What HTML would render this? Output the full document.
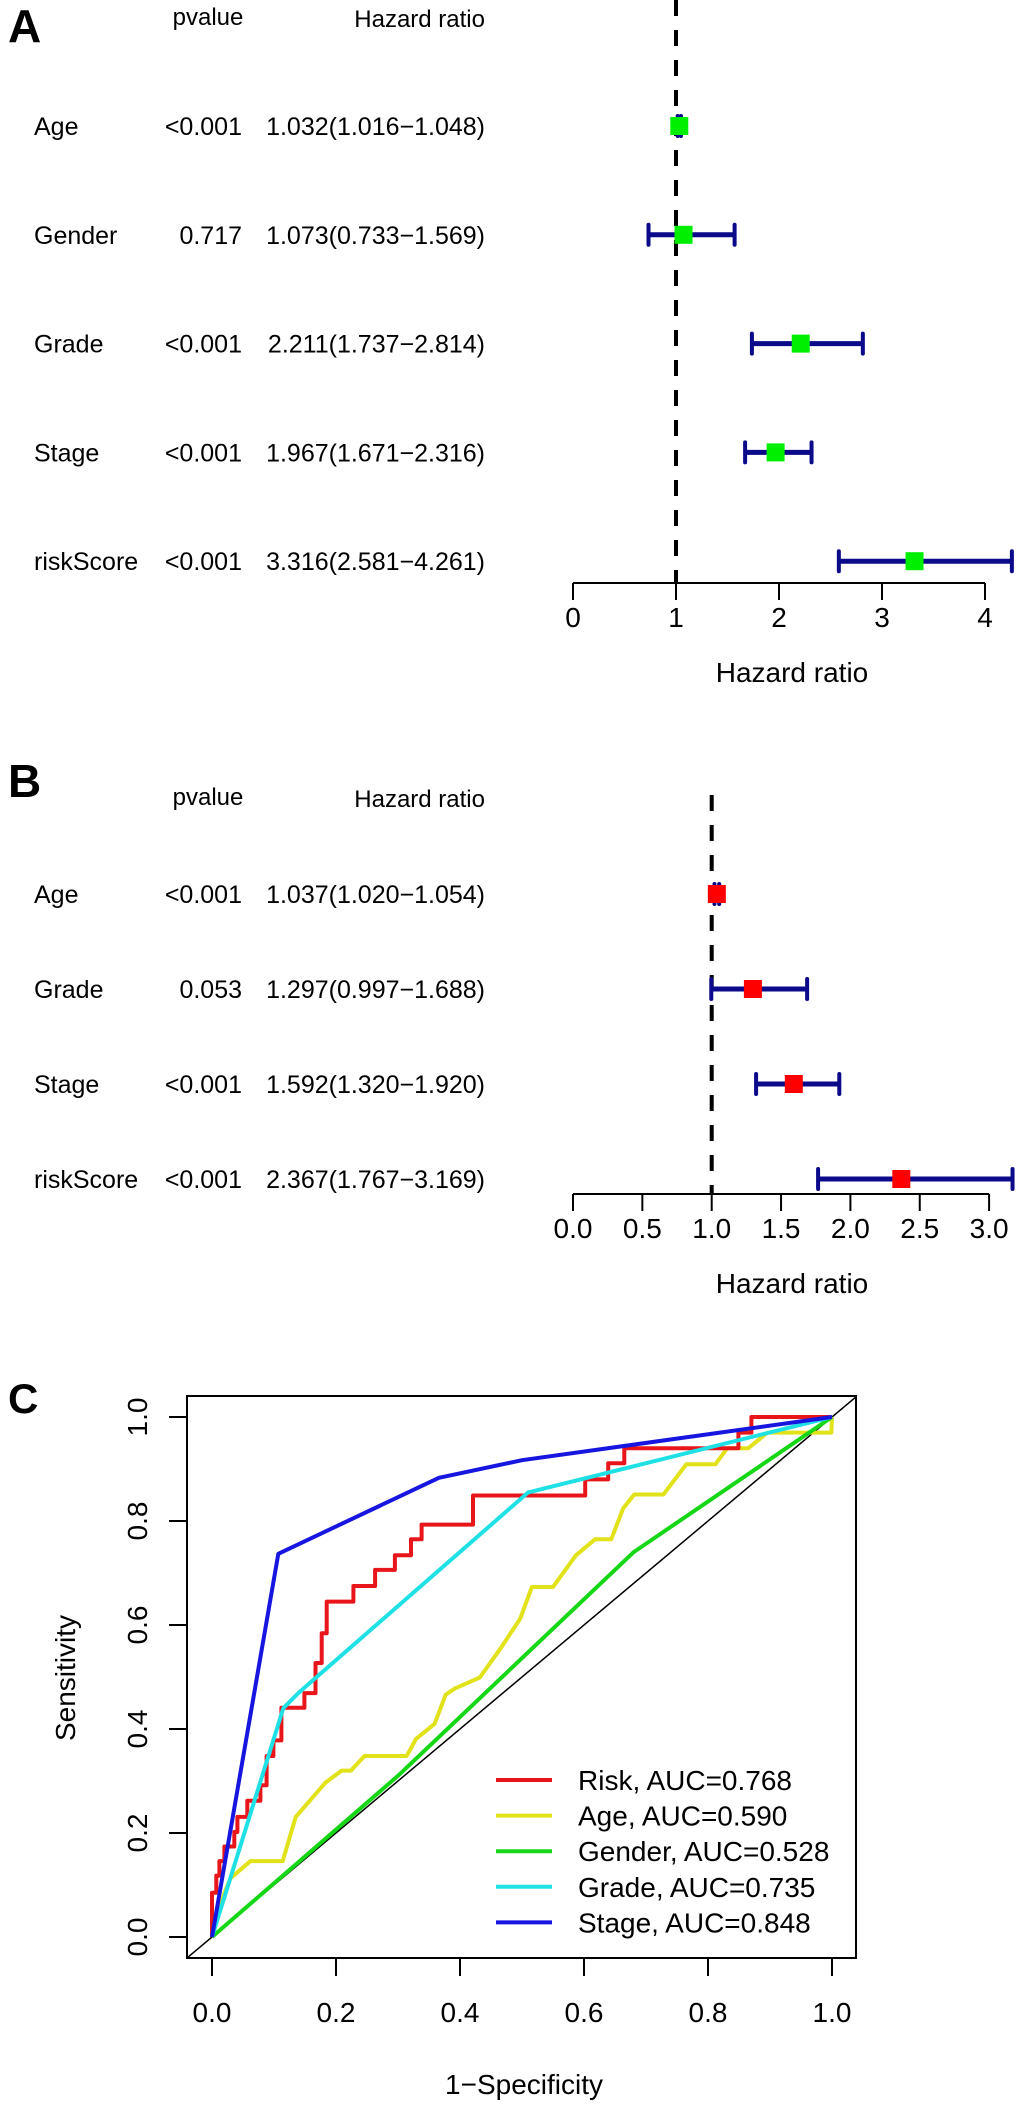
<!DOCTYPE html>
<html><head><meta charset="utf-8"><style>
html,body{margin:0;padding:0;background:#fff;}
svg{display:block;font-family:"Liberation Sans",Arial,sans-serif;}
</style></head><body>
<svg id="fig" width="1020" height="2107" viewBox="0 0 1020 2107">
<g id="pA"></g>
<g id="pB"></g>
<g id="pC"></g>
</svg>
<script>
// ---- Panel A data ----
const aVars = ["Age","Gender","Grade","Stage","riskScore"];
const aP = ["<0.001","0.717","<0.001","<0.001","<0.001"];
const aHR = [1.032,1.073,2.211,1.967,3.316];
const aLo = [1.016,0.733,1.737,1.671,2.581];
const aHi = [1.048,1.569,2.814,2.316,4.261];
const aTicks = [0,1,2,3,4];
const aTickLabels = ["0","1","2","3","4"];
// ---- Panel B data ----
const bVars = ["Age","Grade","Stage","riskScore"];
const bP = ["<0.001","0.053","<0.001","<0.001"];
const bHR = [1.037,1.297,1.592,2.367];
const bLo = [1.020,0.997,1.320,1.767];
const bHi = [1.054,1.688,1.920,3.169];
const bTicks = [0,0.5,1,1.5,2,2.5,3];
const bTickLabels = ["0.0","0.5","1.0","1.5","2.0","2.5","3.0"];
// ---- Panel C data ----
const rocTicks = [0,0.2,0.4,0.6,0.8,1.0];
const rocTickLabels = ["0.0","0.2","0.4","0.6","0.8","1.0"];
const riskFpr = [0,.007,.012,.02,.036,.041,.057,.078,.088,.099,.112,.149,.167,.177,.185,.228,.263,.295,.321,.338,.421,.602,.639,.665,.849,.87,1];
const riskTpr = [.085,.118,.146,.174,.202,.231,.262,.292,.348,.378,.441,.469,.527,.584,.645,.675,.706,.734,.765,.793,.849,.88,.911,.94,.97,1.0,1.0];
const ageFpr = [0,.02,.03,.062,.114,.135,.183,.209,.224,.246,.314,.329,.359,.377,.392,.432,.466,.497,.516,.55,.587,.618,.644,.663,.681,.728,.765,.812,.831,.865,.896,.999,1];
const ageTpr = [0,.085,.113,.146,.146,.231,.297,.32,.32,.348,.348,.381,.41,.466,.478,.499,.556,.612,.673,.673,.734,.765,.765,.824,.851,.851,.909,.909,.94,.94,.97,.97,1];
const genderFpr = [0,.3,.68,1];
const genderTpr = [0,.31,.74,1];
const gradeFpr = [0,.115,.14,.51,1];
const gradeTpr = [0,.44,.47,.855,1];
const stageFpr = [0,.107,.366,.5,1];
const stageTpr = [0,.737,.883,.917,1];
const legendLabels = ["Risk, AUC=0.768","Age, AUC=0.590","Gender, AUC=0.528","Grade, AUC=0.735","Stage, AUC=0.848"];
const legendColors = ["#e8161b","#e2e21a","#16d716","#1ee0e5","#1616e0"];

const NS="http://www.w3.org/2000/svg";
function mk(parent,tag,attrs,text){const e=document.createElementNS(NS,tag);for(const k in attrs)e.setAttribute(k,attrs[k]);if(text!==undefined)e.textContent=text;parent.appendChild(e);return e;}

function forest(g,cfg){
  const sx=v=>cfg.x0+v*cfg.unit;
  const rowY=i=>cfg.row0+i*cfg.rowStep;
  let t=mk(g,'text',{x:8,y:cfg.letterY,'font-size':46,'font-weight':'bold'},cfg.letter);
  
  
  t=mk(g,'text',{x:208,y:cfg.headY-2,'font-size':24,'text-anchor':'middle'},'pvalue');
  
  
  t=mk(g,'text',{x:485,y:cfg.headY,'font-size':24,'text-anchor':'end'},'Hazard ratio');
  
  
  // reference line
  let l=mk(g,'line',{x1:sx(1),x2:sx(1),y1:cfg.dashTop,y2:cfg.axisY,stroke:'#000','stroke-width':4,'stroke-dasharray':'16 14'});
  
  
  cfg.vars.forEach((v,i)=>{
    const y=rowY(i);
    let e=mk(g,'text',{x:34,y:y+9,'font-size':25},v);
    
    
    e=mk(g,'text',{x:242,y:y+9,'font-size':25,'text-anchor':'end'},cfg.p[i]);
    
    
    e=mk(g,'text',{x:485,y:y+9,'font-size':25,'text-anchor':'end'},cfg.hr[i].toFixed(3)+'('+cfg.lo[i].toFixed(3)+'\u2212'+cfg.hi[i].toFixed(3)+')');
    
    
    const gb=mk(g,'g',{});
    
    
    mk(gb,'line',{x1:sx(cfg.lo[i]),x2:sx(cfg.hi[i]),y1:y,y2:y,stroke:'#0a0a8a','stroke-width':5});
    mk(gb,'line',{x1:sx(cfg.lo[i]),x2:sx(cfg.lo[i]),y1:y-10,y2:y+10,stroke:'#0a0a8a','stroke-width':4,'stroke-linecap':'round'});
    mk(gb,'line',{x1:sx(cfg.hi[i]),x2:sx(cfg.hi[i]),y1:y-10,y2:y+10,stroke:'#0a0a8a','stroke-width':4,'stroke-linecap':'round'});
    e=mk(g,'rect',{x:sx(cfg.hr[i])-9,y:y-9,width:18,height:18,fill:cfg.boxColor});
    
    
  });
  const ax=mk(g,'g',{});
  
  
  mk(ax,'line',{x1:sx(cfg.ticks[0]),x2:sx(cfg.ticks[cfg.ticks.length-1]),y1:cfg.axisY,y2:cfg.axisY,stroke:'#000','stroke-width':2});
  cfg.ticks.forEach((tv,i)=>{
    mk(ax,'line',{x1:sx(tv),x2:sx(tv),y1:cfg.axisY,y2:cfg.axisY+17,stroke:'#000','stroke-width':2});
    const tl=mk(ax,'text',{x:sx(tv),y:cfg.axisY+44,'font-size':28,'text-anchor':'middle'},cfg.tickLabels[i]);
    
    
  });
  t=mk(g,'text',{x:792,y:cfg.axisY+99,'font-size':28,'text-anchor':'middle'},'Hazard ratio');
  
  
}
forest(document.getElementById('pA'),{letter:'A',letterY:42,headY:27,vars:aVars,p:aP,hr:aHR,lo:aLo,hi:aHi,ticks:aTicks,tickLabels:aTickLabels,x0:573,unit:103,row0:126,rowStep:108.8,axisY:583,dashTop:0,boxColor:'#00ee00'});
forest(document.getElementById('pB'),{letter:'B',letterY:797,headY:807,vars:bVars,p:bP,hr:bHR,lo:bLo,hi:bHi,ticks:bTicks,tickLabels:bTickLabels,x0:573,unit:138.7,row0:894,rowStep:95,axisY:1194,dashTop:795,boxColor:'#ff0000'});

// ---- ROC ----
(function(){
  const g=document.getElementById('pC');
  const X0=212,XU=620,Y0=1937,YU=520;
  const sx=v=>X0+v*XU, sy=v=>Y0-v*YU;
  const L=187,R=856,T=1396,B=1958;
  let t=mk(g,'text',{x:8,y:1413,'font-size':42,'font-weight':'bold'},'C');
  
  
  const defs=mk(g,'defs',{});
  const cp=mk(defs,'clipPath',{id:'clipC'});
  mk(cp,'rect',{x:L,y:T,width:R-L,height:B-T});
  let d=mk(g,'line',{x1:sx(-0.04),y1:sy(-0.04),x2:sx(1.04),y2:sy(1.04),stroke:'#000','stroke-width':1.5,'clip-path':'url(#clipC)'});
  
  
  function poly(xs,ys){return xs.map((x,i)=>sx(x).toFixed(1)+','+sy(ys[i]).toFixed(1)).join(' ');}
  function step(xs,ys){let pts=[sx(xs[0])+','+sy(0)];for(let i=0;i<ys.length;i++){pts.push(sx(xs[i]).toFixed(1)+','+sy(ys[i]).toFixed(1));if(i+1<xs.length)pts.push(sx(xs[i+1]).toFixed(1)+','+sy(ys[i]).toFixed(1));}return pts.join(' ');}
  const series=[
    [poly(ageFpr,ageTpr),legendColors[1],'age-roc-curve'],
    [poly(genderFpr,genderTpr),legendColors[2],'gender-roc-curve'],
    [step(riskFpr,riskTpr),legendColors[0],'risk-roc-curve'],
    [poly(gradeFpr,gradeTpr),legendColors[3],'grade-roc-curve'],
    [poly(stageFpr,stageTpr),legendColors[4],'stage-roc-curve']];
  series.forEach(s=>{
    const p=mk(g,'polyline',{points:s[0],fill:'none',stroke:s[1],'stroke-width':4,'stroke-linejoin':'round'});
    
    
  });
  let box=mk(g,'rect',{x:L,y:T,width:R-L,height:B-T,fill:'none',stroke:'#000','stroke-width':2});
  
  
  const xa=mk(g,'g',{});
  
  
  mk(xa,'line',{x1:sx(0),x2:sx(1),y1:B,y2:B,stroke:'#000','stroke-width':2});
  rocTicks.forEach((v,i)=>{
    mk(xa,'line',{x1:sx(v),x2:sx(v),y1:B,y2:B+18,stroke:'#000','stroke-width':2});
    const tl=mk(xa,'text',{x:sx(v),y:2022,'font-size':28,'text-anchor':'middle'},rocTickLabels[i]);
    
    
  });
  const ya=mk(g,'g',{});
  
  
  mk(ya,'line',{x1:L,x2:L,y1:sy(0),y2:sy(1),stroke:'#000','stroke-width':2});
  rocTicks.forEach((v,i)=>{
    mk(ya,'line',{x1:L-18,x2:L,y1:sy(v),y2:sy(v),stroke:'#000','stroke-width':2});
    const tl=mk(ya,'text',{x:147,y:sy(v),'font-size':28,'text-anchor':'middle',transform:'rotate(-90 147 '+sy(v)+')'},rocTickLabels[i]);
    
    
  });
  t=mk(g,'text',{x:524,y:2094,'font-size':28,'text-anchor':'middle'},'1\u2212Specificity');
  
  
  t=mk(g,'text',{x:75,y:1678,'font-size':28,'text-anchor':'middle',transform:'rotate(-90 75 1678)'},'Sensitivity');
  
  
  const lg=mk(g,'g',{});
  
  
  legendLabels.forEach((lab,i)=>{
    const y=1780+i*35.6;
    const e=mk(lg,'g',{});
    
    
    mk(e,'line',{x1:496,x2:552,y1:y,y2:y,stroke:legendColors[i],'stroke-width':4});
    mk(e,'text',{x:578,y:y+10,'font-size':28},lab);
  });
})();
</script>
</body></html>
